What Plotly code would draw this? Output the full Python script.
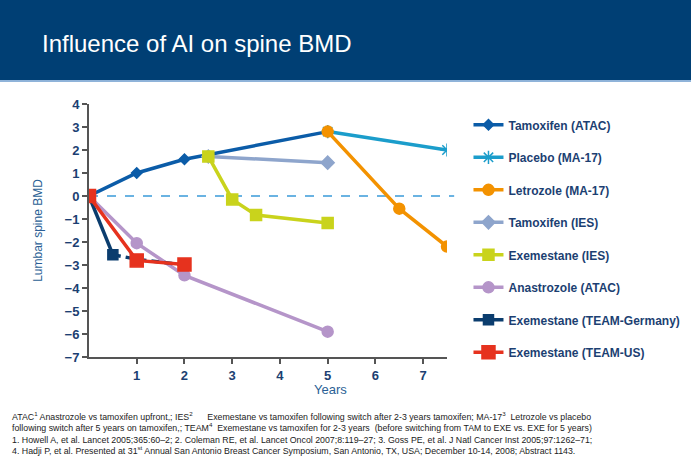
import plotly.graph_objects as go

# values
tam_atac_x = [0, 1, 2, 5]
tam_atac_y = [0, 1.0, 1.6, 2.8]

placebo_x = [5, 7.5]
placebo_y = [2.8, 2.0]

letro_x = [5, 6.5, 7.5]
letro_y = [2.8, -0.55, -2.2]

tam_ies_x = [2.5, 5]
tam_ies_y = [1.72, 1.45]

exe_ies_x = [2.5, 3, 3.5, 5]
exe_ies_y = [1.72, -0.15, -0.83, -1.17]

ana_x = [0, 1, 2, 5]
ana_y = [0, -2.05, -3.45, -5.9]

team_de_x = [0, 0.5, 1, 2]
team_de_y = [0, -2.55, -2.75, -3.0]

team_us_x = [0, 1, 2]
team_us_y = [0, -2.8, -2.98]

xticks = [1, 2, 3, 4, 5, 6, 7]
yticks = [-7, -6, -5, -4, -3, -2, -1, 0, 1, 2, 3, 4]

navy_txt = "#1c3f72"

fig = go.Figure()

def add(x, y, name, color, symbol, size, dash="solid", show=True, mode="lines+markers"):
    fig.add_trace(go.Scatter(
        x=x, y=y, name=name, mode=mode, showlegend=show, legendgroup=name,
        line=dict(color=color, width=3.5, dash=dash),
        marker=dict(symbol=symbol, size=size, color=color,
                    line=dict(color=color, width=1.5)),
    ))

add(tam_atac_x, tam_atac_y, "Tamoxifen (ATAC)", "#0b5ca8", "diamond", 8)
add(placebo_x, placebo_y, "Placebo (MA-17)", "#1b9dcb", "asterisk-open", 11)
add(letro_x, letro_y, "Letrozole (MA-17)", "#f39200", "circle", 11)
add(tam_ies_x, tam_ies_y, "Tamoxifen (IES)", "#8ea5cc", "diamond", 10)
add(exe_ies_x, exe_ies_y, "Exemestane (IES)", "#c9d31c", "square", 11)
add(ana_x, ana_y, "Anastrozole (ATAC)", "#b595c9", "circle", 11)
# TEAM-Germany: solid to first visit, dashed after
add(team_de_x[1:], team_de_y[1:], "Exemestane (TEAM-Germany)", "#0b3d6e", "square", 0,
    dash="8px,5px", show=False, mode="lines")
add(team_de_x[:2], team_de_y[:2], "Exemestane (TEAM-Germany)", "#0b3d6e", "square", 10)
add(team_us_x, team_us_y, "Exemestane (TEAM-US)", "#e6321e", "square", 13)

# header band
fig.add_shape(type="rect", xref="paper", yref="paper", x0=-0.26, x1=1.7, y0=1.095, y1=1.42,
              fillcolor="#003f74", line_width=0, layer="below")
fig.add_shape(type="rect", xref="paper", yref="paper", x0=-0.26, x1=1.7, y0=1.087, y1=1.095,
              fillcolor="#8fb3d9", line_width=0, layer="below")
fig.add_annotation(text="Influence of AI on spine BMD", xref="paper", yref="paper",
                   x=-0.137, y=1.24, xanchor="left", yanchor="middle", showarrow=False,
                   font=dict(family="Liberation Sans", size=24, color="white"))

# zero reference line
fig.add_shape(type="line", xref="paper", yref="y", x0=0, x1=1.02, y0=0, y1=0,
              line=dict(color="#3a9ad9", width=1.5, dash="dash"), layer="below")

fig.add_annotation(text="Years", xref="x", yref="paper", x=5.05, y=-0.13,
                   xanchor="center", yanchor="middle",
                   showarrow=False, font=dict(family="Liberation Sans", size=13, color="#2b5f95"))

notes = [
    "ATAC<sup>1</sup> Anastrozole vs tamoxifen upfront,; IES<sup>2</sup>\u00a0\u00a0\u00a0\u00a0\u00a0 Exemestane vs tamoxifen following switch after 2-3 years tamoxifen; MA-17<sup>3</sup>\u00a0 Letrozole vs placebo",
    "following switch after 5 years on tamoxifen,; TEAM<sup>4</sup>\u00a0 Exemestane vs tamoxifen for 2-3 years\u00a0 (before switching from TAM to EXE vs. EXE for 5 years)",
    "1. Howell A, et al. Lancet 2005;365:60\u20132; 2. Coleman RE, et al. Lancet Oncol 2007;8:119\u201327; 3. Goss PE, et al. J Natl Cancer Inst 2005;97:1262\u201371;",
    "4. Hadji P, et al. Presented at 31<sup>st</sup> Annual San Antonio Breast Cancer Symposium, San Antonio, TX, USA; December 10-14, 2008; Abstract 1143.",
]
fig.add_annotation(text="<br>".join(notes), xref="paper", yref="paper", x=-0.221, y=-0.2,
                   xanchor="left", yanchor="top", align="left", showarrow=False,
                   font=dict(family="Liberation Sans", size=8.8, color="#222222"))

axis_common = dict(showgrid=False, zeroline=False, showline=True, linecolor="#555555",
                   linewidth=2, ticks="outside", ticklen=5, tickwidth=1.5, tickcolor="#555555",
                   tickfont=dict(family="Liberation Sans", size=13, color=navy_txt, weight="bold"))

fig.update_xaxes(range=[0, 7.5], tickvals=xticks, **axis_common)
fig.update_yaxes(range=[-7, 4], tickvals=yticks,
                 title=dict(text="Lumbar spine BMD", standoff=19,
                            font=dict(family="Liberation Sans", size=12, color="#2b5f95")),
                 **axis_common)

fig.update_layout(
    width=691, height=456,
    margin=dict(l=89, r=244, t=104, b=99, autoexpand=False),
    paper_bgcolor="white", plot_bgcolor="white",
    legend=dict(x=1.06, y=0.975, xanchor="left", yanchor="top", tracegroupgap=13.5,
                maxheight=400,
                font=dict(family="Liberation Sans", size=12, color=navy_txt, weight="bold"),
                bgcolor="rgba(0,0,0,0)"),
)

fig.write_html("out.html", config={"displayModeBar": False},
               post_script="document.body.style.margin='0';")
